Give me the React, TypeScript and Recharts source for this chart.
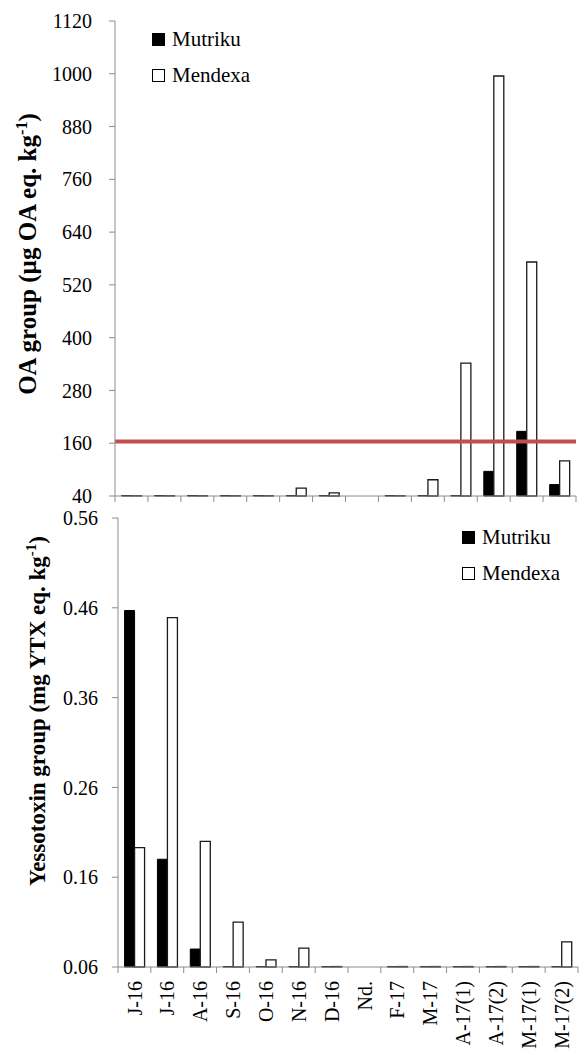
import React from "react";
import { BarChart, Bar, XAxis, YAxis, ReferenceLine, Legend } from "recharts";

const categories = ["J-16", "J-16", "A-16", "S-16", "O-16", "N-16", "D-16", "Nd.", "F-17", "M-17", "A-17(1)", "A-17(2)", "M-17(1)", "M-17(2)"];

// OA group, µg OA eq. kg-1 (values at the axis floor drawn as flat dashes)
const oaMutriku = [41, 41, 41, 41, 41, 41, 41, null, 41, 41, 41, 96, 187, 66];
const oaMendexa = [40.6, 40.6, 40.6, 40.6, 40.6, 58, 47, null, 40.6, 77, 342, 995, 572, 120];
const oaTicks = [40, 160, 280, 400, 520, 640, 760, 880, 1000, 1120];
const oaLimit = 164;

// Yessotoxin group, mg YTX eq. kg-1
const ytxMutriku = [0.457, 0.18, 0.08, 0.0605, 0.0605, 0.0605, 0.0605, null, 0.0605, 0.0605, 0.0605, 0.0605, 0.0605, 0.0605];
const ytxMendexa = [0.193, 0.449, 0.2, 0.11, 0.068, 0.081, 0.0605, null, 0.0605, 0.0605, 0.0605, 0.0605, 0.0605, 0.088];
const ytxTicks = [0.06, 0.16, 0.26, 0.36, 0.46, 0.56];

const oaData = categories.map((c, i) => ({ name: c, mutriku: oaMutriku[i], mendexa: oaMendexa[i] }));
const ytxData = categories.map((c, i) => ({ name: c, mutriku: ytxMutriku[i], mendexa: ytxMendexa[i] }));

const AXIS = "#8c8c8c";
const FONT = "Liberation Serif, Tinos, DejaVu Serif, serif";
const W = 585;

const makeXTick = (band: number, showLabel: boolean) => (props: any) => {
  const { x, y, payload, index } = props;
  const left = x - band / 2;
  const ly = y + 14;
  return (
    <g>
      <line x1={left} y1={y} x2={left} y2={y + 6} stroke={AXIS} />
      {index === categories.length - 1 && (
        <line x1={x + band / 2} y1={y} x2={x + band / 2} y2={y + 6} stroke={AXIS} />
      )}
      {showLabel && (
        <text
          x={x}
          y={ly}
          dy="0.36em"
          transform={`rotate(-90, ${x}, ${ly})`}
          textAnchor="end"
          fontSize={20}
          fontFamily={FONT}
          fill="#000"
        >
          {payload.value}
        </text>
      )}
    </g>
  );
};

const makeYLabel = (main: string, tail: string, bx: number, cy: number, size: number) => () => (
  <text
    transform={`translate(${bx}, ${cy}) rotate(-90)`}
    textAnchor="middle"
    fontSize={size}
    fontFamily={FONT}
    fontWeight="bold"
    fill="#000"
  >
    {main}
    <tspan dy={-size * 0.38} fontSize={size * 0.65}>-1</tspan>
    <tspan dy={size * 0.38}>{tail}</tspan>
  </text>
);

const LegendBox = () => (
  <div style={{ fontFamily: FONT, fontSize: 21, color: "#000", lineHeight: "36px" }}>
    {[
      { name: "Mutriku", fill: "#000" },
      { name: "Mendexa", fill: "#fff" },
    ].map((d) => (
      <div key={d.name} style={{ display: "flex", alignItems: "center", height: 36 }}>
        <span
          style={{
            display: "inline-block",
            width: 11,
            height: 11,
            background: d.fill,
            border: "1px solid #000",
            marginRight: 7,
          }}
        />
        <span>{d.name}</span>
      </div>
    ))}
  </div>
);

const yTick = { fontSize: 20, fill: "#000", fontFamily: FONT };

export default function App() {
  const topBand = (576 - 115) / categories.length;
  const botBand = (578 - 118) / categories.length;
  return (
    <div style={{ position: "absolute", left: 0, top: 0, width: W, height: 1055, background: "#fff", fontFamily: FONT }}>
      <div style={{ position: "absolute", left: 0, top: 0 }}>
        <BarChart
          width={W}
          height={520}
          data={oaData}
          margin={{ top: 21, right: 9, left: 15, bottom: 0 }}
          barGap={0}
          barCategoryGap="20%"
          style={{ fontFamily: FONT }}
        >
          <XAxis
            dataKey="name"
            height={24}
            interval={0}
            tickLine={false}
            tickSize={0}
            tickMargin={0}
            axisLine={{ stroke: AXIS }}
            tick={makeXTick(topBand, false)}
          />
          <YAxis
            width={100}
            domain={[40, 1120]}
            ticks={oaTicks}
            interval={0}
            tickSize={6}
            tickMargin={17}
            axisLine={{ stroke: AXIS }}
            tickLine={{ stroke: AXIS }}
            tick={yTick}
            label={{ content: makeYLabel("OA group (µg OA eq. kg", ")", 36, 254, 25) }}
          />
          <Legend
            layout="vertical"
            align="center"
            verticalAlign="middle"
            content={<LegendBox />}
            wrapperStyle={{ left: 152, top: 21, width: "auto" }}
          />
          <Bar dataKey="mutriku" fill="#000" stroke="#000" strokeWidth={1} isAnimationActive={false} />
          <Bar dataKey="mendexa" fill="#fff" stroke="#1a1a1a" strokeWidth={1.3} isAnimationActive={false} />
          <ReferenceLine y={oaLimit} stroke="#c0504d" strokeWidth={4} />
        </BarChart>
      </div>
      <div style={{ position: "absolute", left: 0, top: 500 }}>
        <BarChart
          width={W}
          height={555}
          data={ytxData}
          margin={{ top: 18, right: 7, left: 18, bottom: 0 }}
          barGap={0}
          barCategoryGap="20%"
          style={{ fontFamily: FONT }}
        >
          <XAxis
            dataKey="name"
            height={88}
            interval={0}
            tickLine={false}
            tickSize={0}
            tickMargin={0}
            axisLine={{ stroke: AXIS }}
            tick={makeXTick(botBand, true)}
          />
          <YAxis
            width={100}
            domain={[0.06, 0.56]}
            ticks={ytxTicks}
            interval={0}
            tickSize={6}
            tickMargin={14}
            axisLine={{ stroke: AXIS }}
            tickLine={{ stroke: AXIS }}
            tick={yTick}
            tickFormatter={(v: number) => v.toFixed(2)}
            label={{ content: makeYLabel("Yessotoxin group (mg YTX eq. kg", ")", 45, 211, 23) }}
          />
          <Legend
            layout="vertical"
            align="center"
            verticalAlign="middle"
            content={<LegendBox />}
            wrapperStyle={{ left: 462, top: 19, width: "auto" }}
          />
          <Bar dataKey="mutriku" fill="#000" stroke="#000" strokeWidth={1} isAnimationActive={false} />
          <Bar dataKey="mendexa" fill="#fff" stroke="#1a1a1a" strokeWidth={1.3} isAnimationActive={false} />
        </BarChart>
      </div>
    </div>
  );
}
